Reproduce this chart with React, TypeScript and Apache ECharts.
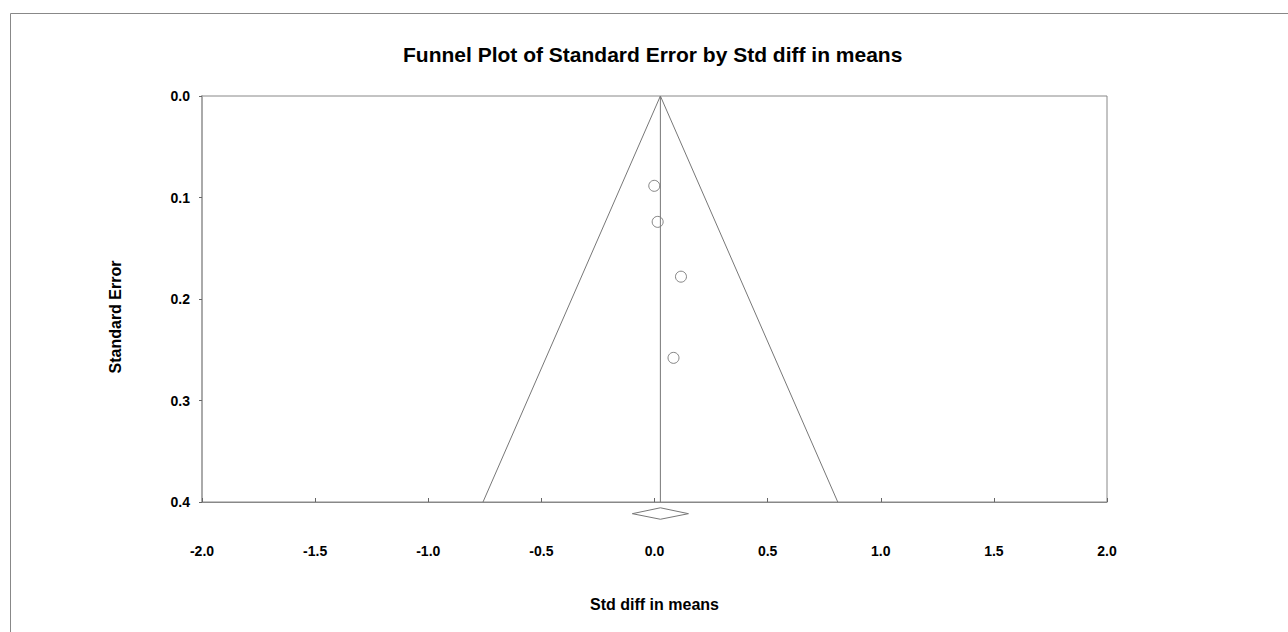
import React, { useEffect, useRef } from "react";
import * as echarts from "echarts";

const titleText = "Funnel Plot of Standard Error by Std diff in means";
const xAxisTitle = "Std diff in means";
const yAxisTitle = "Standard Error";
const xTicks = [-2, -1.5, -1, -0.5, 0, 0.5, 1, 1.5, 2];
const yTicks = [0, 0.1, 0.2, 0.3, 0.4];

// study points: [std diff in means, standard error]
const studyX = [-0.001, 0.014, 0.117, 0.084];
const studySE = [0.0885, 0.124, 0.178, 0.258];

// combined estimate
const meanEffect = 0.026;
const funnelX = [-0.758, 0.026, 0.81];
const funnelY = [0.4, 0, 0.4];

// summary diamond (below the axis)
const diamondX = [-0.098, 0.026, 0.15, 0.026, -0.098];
const diamondY = [0.4115, 0.4057, 0.4115, 0.417, 0.4115];

const FONT = "'Liberation Sans', Arial, sans-serif";

export default function App() {
  const ref = useRef<HTMLDivElement>(null);
  useEffect(() => {
    if (!ref.current) return;
    const chart = echarts.init(ref.current, undefined, { renderer: "svg" });
    const lineStyle = { color: "#777", width: 1 };
    chart.setOption({
      animation: false,
      backgroundColor: "#fff",
      title: {
        text: titleText,
        left: 403,
        top: 44,
        textStyle: { fontFamily: FONT, fontWeight: "bold", fontSize: 21, color: "#000" },
        padding: 0,
      },
      graphic: [
        {
          type: "rect",
          left: 8,
          top: 11,
          shape: { width: 1400, height: 700 },
          style: { fill: "none", stroke: "#888", lineWidth: 1 },
          silent: true,
        },
        {
          type: "text",
          x: 115,
          y: 317,
          rotation: Math.PI / 2,
          style: {
            text: yAxisTitle,
            fontFamily: FONT,
            fontWeight: "bold",
            fontSize: 16,
            fill: "#000",
            align: "center",
            verticalAlign: "middle",
          },
          silent: true,
        },
      ],
      grid: {
        left: 202,
        top: 96,
        right: 181,
        bottom: 130,
        show: true,
        borderColor: "#888",
        borderWidth: 1,
        containLabel: false,
      },
      xAxis: {
        type: "value",
        position: "bottom",
        min: xTicks[0],
        max: xTicks[xTicks.length - 1],
        interval: 0.5,
        name: xAxisTitle,
        nameLocation: "middle",
        nameGap: 94,
        nameTextStyle: { fontFamily: FONT, fontWeight: "bold", fontSize: 16, color: "#000" },
        axisLine: { show: true, onZero: false, lineStyle: { color: "#888" } },
        axisTick: { show: true, inside: true, length: 4, lineStyle: { color: "#666" } },
        splitLine: { show: false },
        axisLabel: {
          margin: 42,
          fontFamily: FONT,
          fontWeight: "bold",
          fontSize: 14,
          color: "#000",
          formatter: (v: number) => v.toFixed(1),
        },
      },
      yAxis: {
        type: "value",
        position: "left",
        inverse: true,
        min: yTicks[0],
        max: yTicks[yTicks.length - 1],
        interval: 0.1,
        axisLine: { show: true, onZero: false, lineStyle: { color: "#aaa", width: 2 } },
        axisTick: { show: true, inside: false, length: 3, lineStyle: { color: "#666" } },
        splitLine: { show: false },
        axisLabel: {
          margin: 12,
          fontFamily: FONT,
          fontWeight: "bold",
          fontSize: 14,
          color: "#000",
          formatter: (v: number) => v.toFixed(1),
        },
      },
      series: [
        {
          type: "line",
          data: funnelX.map((x, i) => [x, funnelY[i]]),
          symbol: "none",
          lineStyle,
          silent: true,
        },
        {
          type: "line",
          data: [
            [meanEffect, yTicks[0]],
            [meanEffect, yTicks[yTicks.length - 1]],
          ],
          symbol: "none",
          lineStyle,
          silent: true,
        },
        {
          type: "line",
          data: diamondX.map((x, i) => [x, diamondY[i]]),
          symbol: "none",
          clip: false,
          lineStyle,
          silent: true,
        },
        {
          type: "scatter",
          data: studyX.map((x, i) => [x, studySE[i]]),
          symbol: "circle",
          symbolSize: 11,
          itemStyle: { color: "#fff", borderColor: "#666", borderWidth: 1 },
          silent: true,
        },
      ],
    });
    return () => chart.dispose();
  }, []);
  return (
    <div
      ref={ref}
      style={{ position: "fixed", left: 0, top: 0, width: 1288, height: 632 }}
    />
  );
}
